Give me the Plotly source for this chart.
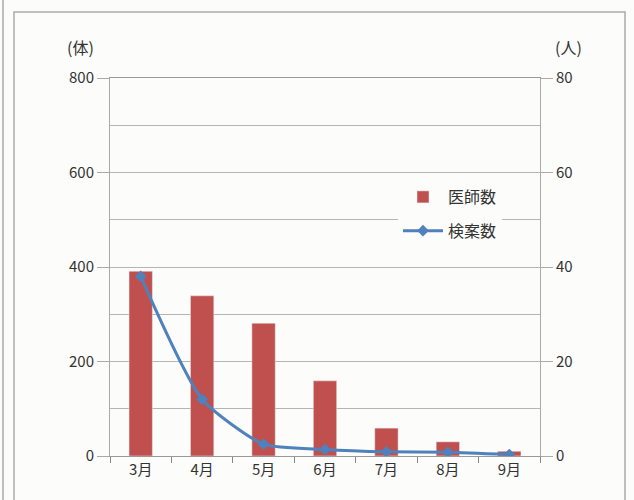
import plotly.graph_objects as go

months = ["3月", "4月", "5月", "6月", "7月", "8月", "9月"]
doctors = [391, 339, 281, 159, 59, 30, 10]
cases = [38, 12, 2.5, 1.4, 0.9, 0.8, 0.3]

FONT = "Noto Sans CJK JP"
fig = go.Figure()
fig.add_trace(go.Bar(x=months, y=doctors, name="医師数", marker_color="#C0504D",
                     width=0.38, yaxis="y", legendgroup="a"))
fig.add_trace(go.Scatter(x=months, y=cases, name="検案数", mode="lines+markers",
                         line=dict(color="#4F81BD", width=3, shape="spline", smoothing=0.6),
                         marker=dict(symbol="diamond", size=9, color="#4F81BD"),
                         yaxis="y2", legendgroup="b"))

L, R, T, B = 110, 94, 78, 44
W, H = 634, 500
pw, ph = W - L - R, H - T - B
def px(x): return (x - L) / pw
def py(y): return (H - B - y) / ph

fig.update_layout(
    width=W, height=H,
    margin=dict(l=L, r=R, t=T, b=B),
    paper_bgcolor="#FCFCFA", plot_bgcolor="#FCFCFA",
    font=dict(family=FONT, size=15, color="#333333"),
    showlegend=True,
    legend=dict(x=px(398), y=py(180), xanchor="left", yanchor="top",
                bgcolor="#FCFCFA", font=dict(size=16, family=FONT),
                tracegroupgap=10, itemwidth=40),
    xaxis=dict(showline=True, linecolor="#999999", ticks="outside", tickson="boundaries",
               ticklen=6, tickcolor="#888888", showgrid=False, mirror=True),
    yaxis=dict(range=[0, 800], dtick=200, showgrid=True, gridcolor="#B5B5B5",
               minor=dict(dtick=100, showgrid=True, gridcolor="#B5B5B5"),
               showline=True, linecolor="#AAAAAA", ticks="outside", ticklen=12,
               tickcolor="#AAAAAA", zeroline=False),
    yaxis2=dict(range=[0, 80], dtick=20, overlaying="y", side="right", showgrid=False,
                showline=True, linecolor="#AAAAAA", ticks="outside", ticklen=12,
                tickcolor="#AAAAAA", zeroline=False),
    bargap=0.6,
    shapes=[
        dict(type="rect", xref="paper", yref="paper", x0=px(14), x1=px(625),
             y0=py(520), y1=py(12), line=dict(color="#AAAAAA", width=1.5)),
        dict(type="line", xref="paper", yref="paper", x0=px(3), x1=px(3),
             y0=py(520), y1=py(0), line=dict(color="#AAAAAA", width=1.5)),
    ],
    annotations=[
        dict(text="(体)", xref="paper", yref="paper", x=px(80), y=py(47),
             xanchor="center", yanchor="middle",
             showarrow=False, font=dict(size=16)),
        dict(text="(人)", xref="paper", yref="paper", x=px(568), y=py(47),
             xanchor="center", yanchor="middle",
             showarrow=False, font=dict(size=16)),
    ],
)
fig.write_html("out.html")
